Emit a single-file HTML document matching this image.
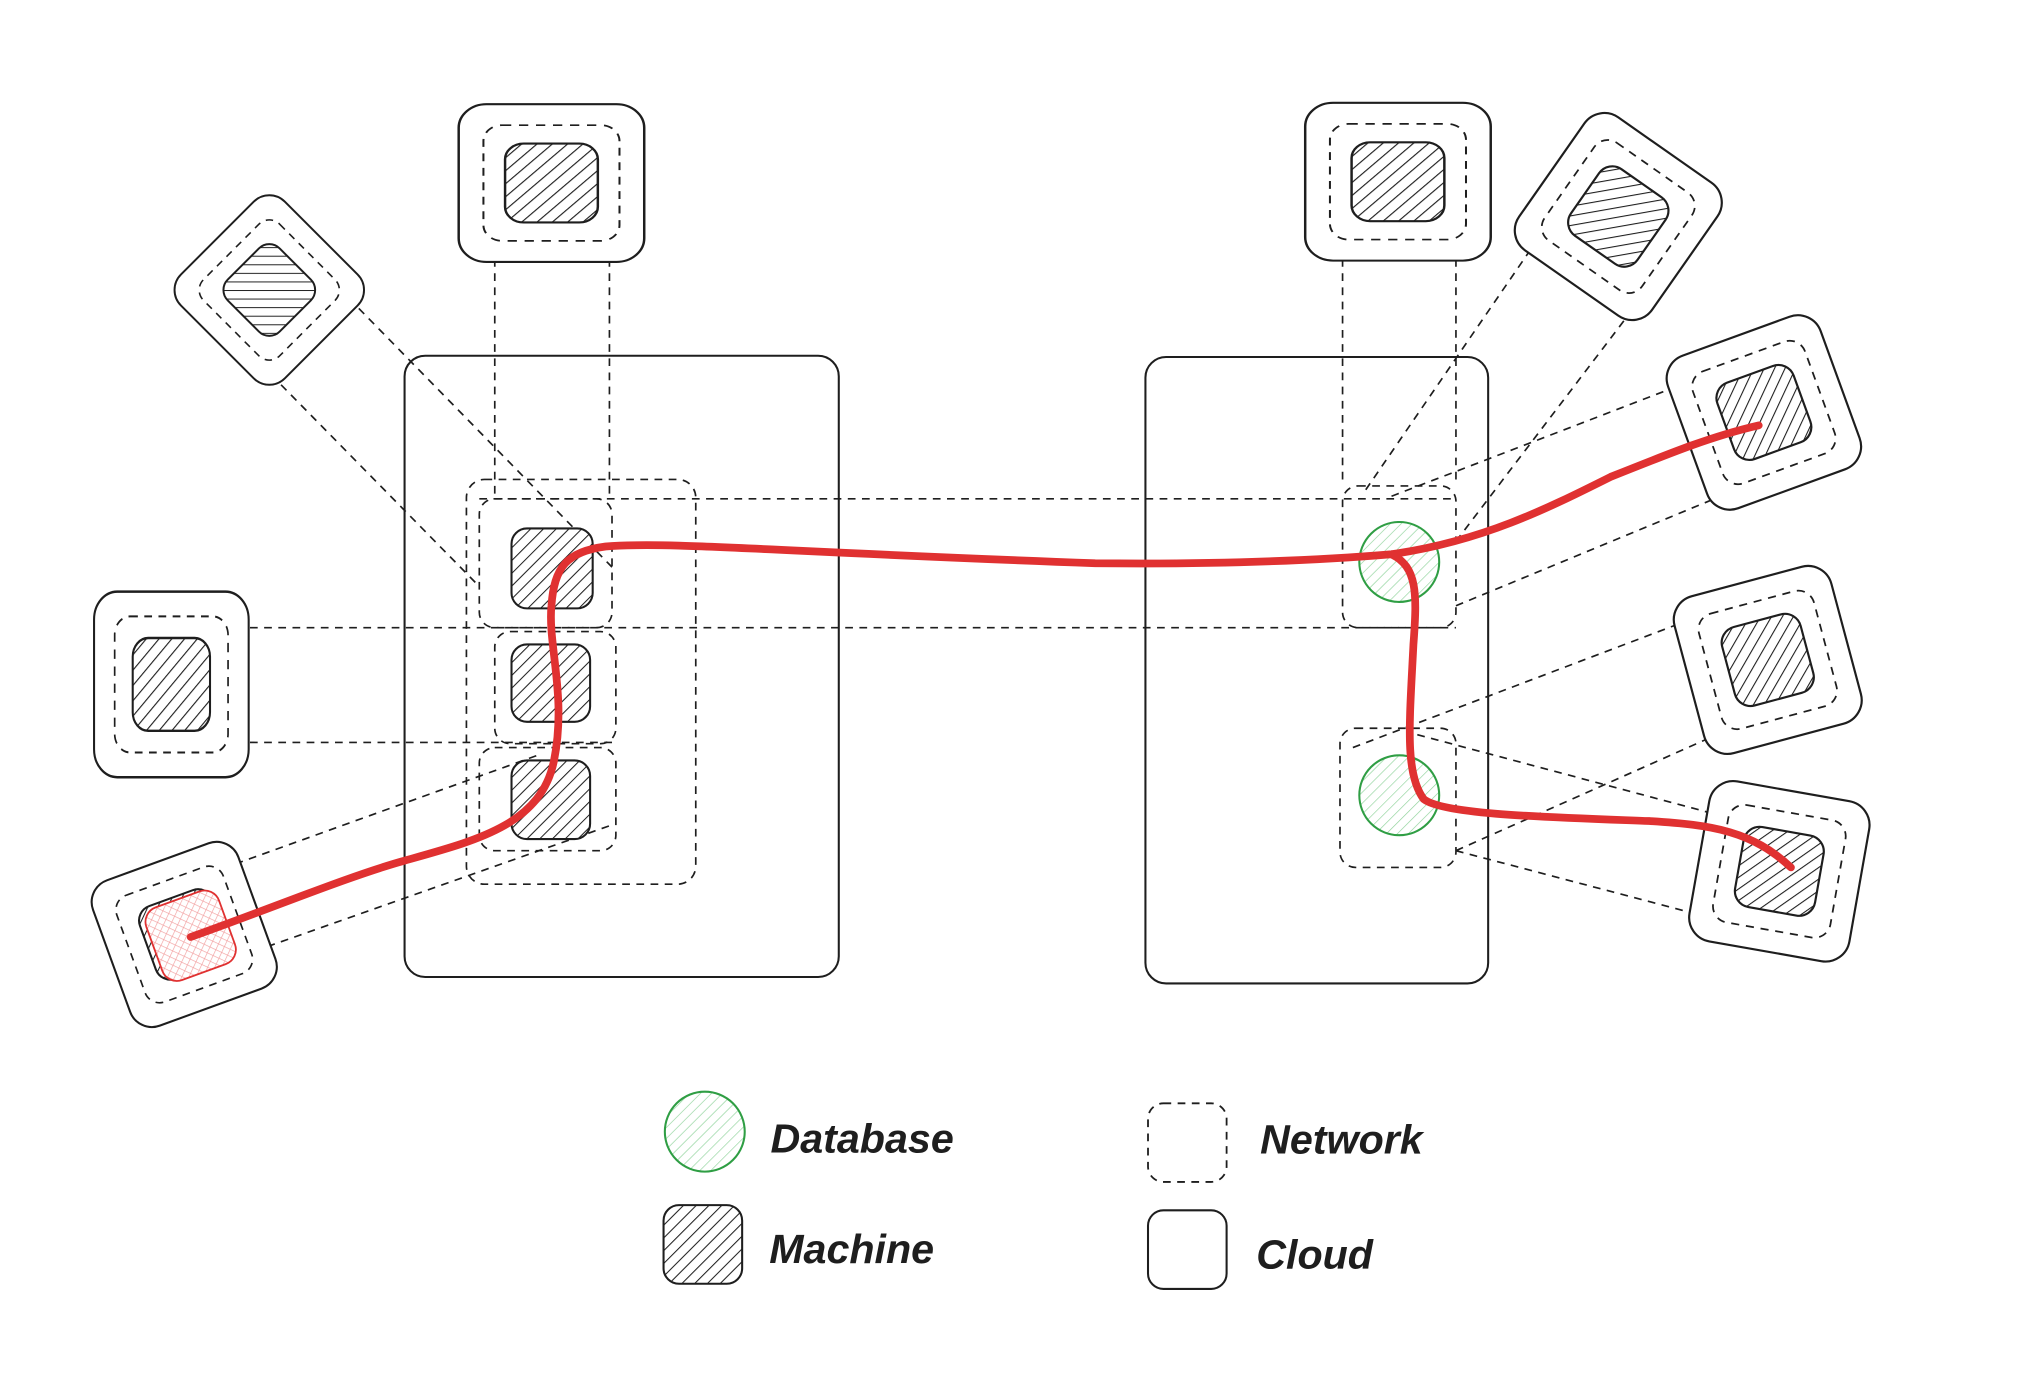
<!DOCTYPE html>
<html><head><meta charset="utf-8"><style>
html,body{margin:0;padding:0;background:#fff;}
svg{display:block;}
text{font-family:"Liberation Sans",sans-serif;font-style:italic;font-weight:bold;fill:#1e1e1e;}
</style></head><body>
<svg width="2019" height="1383" viewBox="0 0 1567 1073" preserveAspectRatio="none" xmlns="http://www.w3.org/2000/svg">
<defs>
<pattern id="h" width="7" height="7" patternUnits="userSpaceOnUse" patternTransform="rotate(45)"><rect width="7" height="7" fill="#fff"/><line x1="0" y1="0" x2="0" y2="7" stroke="#1e1e1e" stroke-width="1.6"/></pattern>
<pattern id="g" width="6" height="6" patternUnits="userSpaceOnUse" patternTransform="rotate(45)"><rect width="6" height="6" fill="#fff"/><line x1="0" y1="0" x2="0" y2="6" stroke="#8fd39b" stroke-width="1"/></pattern>
<pattern id="r" width="5" height="5" patternUnits="userSpaceOnUse" patternTransform="rotate(45)"><rect width="5" height="5" fill="#fff"/><line x1="0" y1="0" x2="0" y2="5" stroke="#f2a0a0" stroke-width="1"/><line x1="0" y1="0" x2="5" y2="0" stroke="#f2a0a0" stroke-width="1"/></pattern>
<g id="unit">
<rect x="-60" y="-60" width="120" height="120" rx="18" fill="#fff" stroke="#1e1e1e" stroke-width="1.6"/>
<rect x="-44" y="-44" width="88" height="88" rx="12" fill="none" stroke="#1e1e1e" stroke-width="1.3" stroke-dasharray="6 5"/>
<rect x="-30" y="-30" width="60" height="60" rx="12" fill="url(#h)" stroke="#1e1e1e" stroke-width="1.6"/>
</g>
</defs>
<g fill="none" stroke="#1e1e1e" stroke-width="1.6">
<rect x="314" y="276" width="337" height="482" rx="16"/>
<rect x="889" y="277" width="266" height="486" rx="16"/>
</g>
<g fill="none" stroke="#1e1e1e" stroke-width="1.3" stroke-dasharray="6 5">
<line x1="384" y1="190" x2="384" y2="387"/><line x1="473" y1="190" x2="473" y2="387"/>
<line x1="1042" y1="190" x2="1042" y2="377"/><line x1="1130" y1="190" x2="1130" y2="377"/>
<line x1="372" y1="387" x2="1130" y2="387"/>
<line x1="194" y1="487" x2="1130" y2="487"/>
<line x1="194" y1="576" x2="478" y2="576"/>
<line x1="240" y1="200" x2="475" y2="440"/><line x1="195" y1="275" x2="372" y2="455"/>
<line x1="100" y1="700" x2="420" y2="585"/><line x1="135" y1="760" x2="475" y2="640"/>
<line x1="1060" y1="380" x2="1235" y2="125"/><line x1="1130" y1="420" x2="1290" y2="210"/>
<line x1="1080" y1="385" x2="1340" y2="285"/><line x1="1130" y1="470" x2="1420" y2="350"/>
<line x1="1050" y1="580" x2="1340" y2="470"/><line x1="1130" y1="660" x2="1400" y2="540"/>
<line x1="1100" y1="570" x2="1400" y2="650"/><line x1="1130" y1="660" x2="1320" y2="710"/>
<rect x="362" y="372" width="178" height="314" rx="14"/>
<rect x="372" y="387" width="103" height="100" rx="12"/>
<rect x="384" y="490" width="94" height="87" rx="12"/>
<rect x="372" y="580" width="106" height="80" rx="12"/>
<rect x="1042" y="377" width="88" height="110" rx="12"/>
<rect x="1040" y="565" width="90" height="108" rx="12"/>
</g>
<use href="#unit" transform="translate(428,142) scale(1.2,1.02)"/>
<use href="#unit" transform="translate(209,225) rotate(45) scale(0.95)"/>
<use href="#unit" transform="translate(133,531) scale(1.0,1.2)"/>
<use href="#unit" transform="translate(143,725) rotate(-20)"/>
<use href="#unit" transform="translate(1085,141) scale(1.2,1.02)"/>
<use href="#unit" transform="translate(1256,168) rotate(35) scale(1.05)"/>
<use href="#unit" transform="translate(1369,320) rotate(-20) scale(1.05)"/>
<use href="#unit" transform="translate(1372,512) rotate(-15) scale(1.05)"/>
<use href="#unit" transform="translate(1381,676) rotate(10) scale(1.05)"/>
<rect x="118" y="696" width="60" height="60" rx="12" transform="rotate(-20 148 726)" fill="url(#r)" stroke="#e03131" stroke-width="1.4"/>
<g fill="url(#h)" stroke="#1e1e1e" stroke-width="1.6">
<rect x="397" y="410" width="63" height="62" rx="12"/>
<rect x="397" y="500" width="61" height="60" rx="12"/>
<rect x="397" y="590" width="61" height="61" rx="12"/>
</g>
<g fill="url(#g)" stroke="#2f9e44" stroke-width="1.6">
<circle cx="1086" cy="436" r="31"/><circle cx="1086" cy="617" r="31"/>
<circle cx="547" cy="878" r="31"/>
</g>
<g fill="none" stroke="#e03131" stroke-width="6" stroke-linecap="round" stroke-linejoin="round">
<path d="M148 727 C210 705 270 680 313 668 C370 652 420 640 430 590 C440 540 425 500 428 470 C430 440 440 428 470 424 C520 420 600 428 850 437 C950 438 1020 435 1080 430 C1150 420 1200 395 1250 370 C1300 350 1330 338 1365 330"/>
<path d="M1080 430 C1100 440 1100 460 1097 500 C1094 560 1090 600 1105 620 C1120 632 1200 634 1280 637 C1330 640 1360 645 1390 673"/>
</g>
<rect x="515" y="935" width="61" height="61" rx="12" fill="url(#h)" stroke="#1e1e1e" stroke-width="1.6"/>
<rect x="891" y="856" width="61" height="61" rx="12" fill="none" stroke="#1e1e1e" stroke-width="1.4" stroke-dasharray="6 5"/>
<rect x="891" y="939" width="61" height="61" rx="12" fill="#fff" stroke="#1e1e1e" stroke-width="1.6"/>
<text x="598" y="894" font-size="32">Database</text>
<text x="597" y="980" font-size="32">Machine</text>
<text x="978" y="895" font-size="32">Network</text>
<text x="975" y="984" font-size="32">Cloud</text>
</svg>
</body></html>
